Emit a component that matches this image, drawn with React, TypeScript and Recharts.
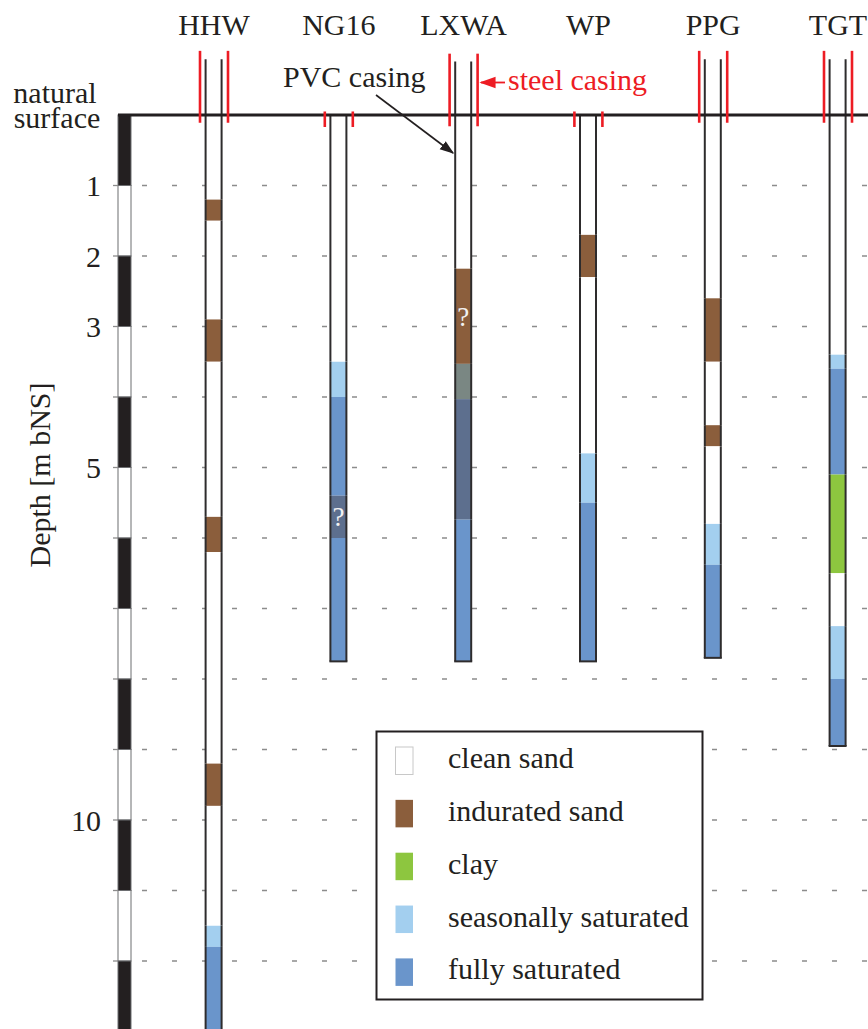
import React from "react";
import {
  BarChart,
  Bar,
  Cell,
  XAxis,
  YAxis,
  CartesianGrid,
  ReferenceLine,
  ReferenceArea,
  Legend,
  Customized,
} from "recharts";

const FONT = '"Liberation Serif", "Times New Roman", serif';
const FONT_SIZE = 30;
const INK = "#231f20";
const WALL = "#2e2c2d";
const RED = "#ed1c24";

// category band padding, so the six wells sit where the depth ruler leaves room
const X_PAD_LEFT = 33.6;
const X_PAD_RIGHT = -32.4;

const WELLS = ["HHW", "NG16", "LXWA", "WP", "PPG", "TGT"];

// top of the PVC casing in m below natural surface (negative = sticks up), 0 = flush
const CASING_TOP = [-0.79, 0, -0.76, 0, -0.79, -0.79];

// steel casing extent [top, bottom], m bNS
const STEEL_CASING = [
  [-0.91, 0.11],
  [-0.05, 0.17],
  [-0.87, 0.16],
  [-0.05, 0.17],
  [-0.91, 0.11],
  [-0.91, 0.11],
];

type Layer = [string, number, number, string?];

const HHW_LAYERS: Layer[] = [
  ["clean", 0, 1.2],
  ["indurated", 1.2, 1.5],
  ["clean", 1.5, 2.9],
  ["indurated", 2.9, 3.5],
  ["clean", 3.5, 5.7],
  ["indurated", 5.7, 6.2],
  ["clean", 6.2, 9.2],
  ["indurated", 9.2, 9.8],
  ["clean", 9.8, 11.5],
  ["seasonal", 11.5, 11.8],
  ["saturated", 11.8, 13],
];

const NG16_LAYERS: Layer[] = [
  ["clean", 0, 3.5],
  ["seasonal", 3.5, 4.0],
  ["saturated", 4.0, 5.4],
  ["saturatedQ", 5.4, 6.0, "?"],
  ["saturated", 6.0, 7.75],
];

const LXWA_LAYERS: Layer[] = [
  ["clean", 0, 2.18],
  ["indurated", 2.18, 3.53, "?"],
  ["seasonalQ", 3.53, 4.03],
  ["saturatedQ", 4.03, 5.74],
  ["saturated", 5.74, 7.75],
];

const WP_LAYERS: Layer[] = [
  ["clean", 0, 1.7],
  ["indurated", 1.7, 2.3],
  ["clean", 2.3, 4.8],
  ["seasonal", 4.8, 5.5],
  ["saturated", 5.5, 7.75],
];

const PPG_LAYERS: Layer[] = [
  ["clean", 0, 2.6],
  ["indurated", 2.6, 3.5],
  ["clean", 3.5, 4.4],
  ["indurated", 4.4, 4.7],
  ["clean", 4.7, 5.8],
  ["seasonal", 5.8, 6.38],
  ["saturated", 6.38, 7.7],
];

const TGT_LAYERS: Layer[] = [
  ["clean", 0, 3.4],
  ["seasonal", 3.4, 3.6],
  ["saturated", 3.6, 5.1],
  ["clay", 5.1, 6.5],
  ["clean", 6.5, 7.25],
  ["seasonal", 7.25, 8.0],
  ["saturated", 8.0, 8.95],
];

const LAYERS = [HHW_LAYERS, NG16_LAYERS, LXWA_LAYERS, WP_LAYERS, PPG_LAYERS, TGT_LAYERS];

const LEGEND_KEYS = ["clean", "indurated", "clay", "seasonal", "saturated"];
const LEGEND_LABELS = ["clean sand", "indurated sand", "clay", "seasonally saturated", "fully saturated"];

const COLORS: Record<string, string> = {
  clean: "#ffffff",
  indurated: "#8b5e3c",
  clay: "#8dc63f",
  seasonal: "#a3cfef",
  saturated: "#6a95cb",
  seasonalQ: "#7a8783",
  saturatedQ: "#5d6f8e",
};

const DEPTH_TICKS = [1, 2, 3, 4, 5, 6, 7, 8, 9, 10, 11, 12, 13];
const DEPTH_LABELS = [1, 2, 3, 5, 10];
const SCALE_METERS = [0, 1, 2, 3, 4, 5, 6, 7, 8, 9, 10, 11, 12];

const MAX_LAYERS = Math.max(...LAYERS.map((l) => l.length));
const LAYER_KEYS = Array.from({ length: MAX_LAYERS }, (_, k) => `l${k}`);

// one row per well: a transparent lift up to the casing top, the casing, then each layer's thickness
const data = WELLS.map((name, i) => {
  const row: Record<string, any> = { name, lift: CASING_TOP[i], casing: -CASING_TOP[i] };
  LAYER_KEYS.forEach((key, k) => {
    const layer = LAYERS[i][k];
    row[key] = layer ? layer[2] - layer[1] : 0;
  });
  return row;
});

// k = -1 for the casing piece, otherwise the layer index
function makeSegment(k: number) {
  return (p: any) => {
    const wi = WELLS.indexOf(p.payload?.name ?? WELLS[p.index]);
    const layers = LAYERS[wi];
    if (!layers) return <g />;
    if (k >= 0 && k >= layers.length) return <g />;
    const h = Math.abs(p.height || 0);
    if (h < 0.01) return <g />;
    const top = Math.min(p.y, p.y + p.height);
    const x = p.x;
    const w = p.width;
    const layer = k >= 0 ? layers[k] : null;
    const last = k === layers.length - 1;
    return (
      <g>
        <rect x={x} y={top} width={w} height={h} fill={p.fill} />
        <line x1={x} x2={x} y1={top} y2={top + h} stroke={WALL} strokeWidth={2} />
        <line x1={x + w} x2={x + w} y1={top} y2={top + h} stroke={WALL} strokeWidth={2} />
        {last && <line x1={x - 1} x2={x + w + 1} y1={top + h} y2={top + h} stroke={WALL} strokeWidth={2} />}
        {layer && layer[3] && (
          <text
            x={x + w / 2}
            y={top + h / 2}
            dy="0.35em"
            textAnchor="middle"
            fontFamily={FONT}
            fontSize={27}
            fill="#f2f2f2"
          >
            {layer[3]}
          </text>
        )}
      </g>
    );
  };
}

const SteelPair = (p: any) => (
  <g>
    <line x1={p.x1 - 14} x2={p.x2 - 14} y1={p.y1} y2={p.y2} stroke={RED} strokeWidth={2.6} />
    <line x1={p.x1 + 14} x2={p.x2 + 14} y1={p.y1} y2={p.y2} stroke={RED} strokeWidth={2.6} />
  </g>
);

// depth ruler piece: left edge of the plot, 13px wide
const rulerPiece = (m: number) => (p: any) => (
  <rect
    x={p.x - X_PAD_LEFT}
    y={Math.min(p.y, p.y + p.height)}
    width={13}
    height={Math.abs(p.height)}
    fill={m % 2 === 0 ? INK : "#fff"}
    stroke="#6d6e71"
    strokeWidth={1}
  />
);

const WellTick = (p: any) => (
  <text x={p.x} y={p.y} textAnchor="middle" fontFamily={FONT} fontSize={FONT_SIZE} fill={INK}>
    {p.payload.value}
  </text>
);

const DepthTick = (p: any) => {
  if (!DEPTH_LABELS.includes(p.payload.value)) return <g />;
  return (
    <text x={p.x} y={p.y} dy="0.35em" textAnchor="end" fontFamily={FONT} fontSize={FONT_SIZE} fill={INK}>
      {p.payload.value}
    </text>
  );
};

const SoilLegend = () => (
  <svg width={329} height={271} style={{ display: "block" }}>
    <rect x={1.5} y={1.5} width={326} height={268} fill="#fff" stroke={INK} strokeWidth={2} />
    {LEGEND_KEYS.map((key, i) => (
      <g key={key}>
        <rect
          x={20.5}
          y={17 + i * 52.85}
          width={17.5}
          height={27.5}
          fill={COLORS[key]}
          stroke={key === "clean" ? "#c8c8c8" : "none"}
          strokeWidth={1}
        />
        <text x={73} y={38 + i * 52.85} fontFamily={FONT} fontSize={FONT_SIZE} fill={INK}>
          {LEGEND_LABELS[i]}
        </text>
      </g>
    ))}
  </svg>
);

const Annotations = () => (
  <g fontFamily={FONT} fontSize={FONT_SIZE}>
    <defs>
      <marker id="arrowInk" viewBox="0 0 10 10" refX={9} refY={5} markerWidth={9} markerHeight={9} orient="auto">
        <path d="M0,1.5 L10,5 L0,8.5 z" fill={INK} />
      </marker>
      <marker id="arrowRed" viewBox="0 0 10 10" refX={9} refY={5} markerWidth={9} markerHeight={9} orient="auto">
        <path d="M0,1.5 L10,5 L0,8.5 z" fill={RED} />
      </marker>
    </defs>
    <text textAnchor="middle" fill={INK}>
      <tspan x={55} y={103}>natural</tspan>
      <tspan x={57} y={128}>surface</tspan>
    </text>
    <text x={50} y={475} textAnchor="middle" fill={INK} transform="rotate(-90 50 475)">
      Depth [m bNS]
    </text>
    <text x={283} y={87} fill={INK}>PVC casing</text>
    <line x1={376} y1={95} x2={453} y2={153} stroke={INK} strokeWidth={1.6} markerEnd="url(#arrowInk)" />
    <line x1={505} y1={82.5} x2={481} y2={82.5} stroke={RED} strokeWidth={1.8} markerEnd="url(#arrowRed)" />
    <text x={508} y={90} fill={RED}>steel casing</text>
  </g>
);

export default function App() {
  return (
    <div
      style={{
        position: "absolute",
        left: 0,
        top: 0,
        width: 868,
        height: 1029,
        overflow: "hidden",
        background: "#fff",
      }}
    >
      <BarChart
        width={868}
        height={1040}
        data={data}
        margin={{ top: 14.5, right: 0, bottom: 8.5, left: 0 }}
        barCategoryGap={0}
      >
        <CartesianGrid
          vertical={false}
          syncWithTicks
          stroke="#8c8c8c"
          strokeWidth={1.3}
          strokeDasharray="0 24 5 1"
        />
        <XAxis
          dataKey="name"
          orientation="top"
          height={30}
          axisLine={false}
          tickLine={false}
          tickSize={0}
          tickMargin={10}
          tick={WellTick}
          padding={{ left: X_PAD_LEFT, right: X_PAD_RIGHT }}
          interval={0}
        />
        <YAxis
          type="number"
          reversed
          domain={[-1, 13]}
          allowDataOverflow
          ticks={DEPTH_TICKS}
          width={118}
          axisLine={false}
          tickLine={{ stroke: "#8c8c8c", strokeWidth: 1.3 }}
          tickSize={5}
          tickMargin={12}
          tick={DepthTick}
        />
        {SCALE_METERS.map((m) => (
          <ReferenceArea key={`scale-${m}`} y1={m} y2={m + 1} ifOverflow="visible" shape={rulerPiece(m)} />
        ))}
        <ReferenceLine y={0} stroke={INK} strokeWidth={3} />
        <Bar dataKey="lift" stackId="well" barSize={16} isAnimationActive={false} shape={() => <g />} />
        <Bar dataKey="casing" stackId="well" barSize={16} isAnimationActive={false} fill="#fff" shape={makeSegment(-1)} />
        {LAYER_KEYS.map((key, k) => (
          <Bar key={key} dataKey={key} stackId="well" barSize={16} isAnimationActive={false} shape={makeSegment(k)}>
            {WELLS.map((w, i) => (
              <Cell key={w} fill={LAYERS[i][k] ? COLORS[LAYERS[i][k][0]] : "none"} />
            ))}
          </Bar>
        ))}
        {WELLS.map((w, i) => (
          <ReferenceLine
            key={`steel-${w}`}
            segment={[
              { x: w, y: STEEL_CASING[i][0] },
              { x: w, y: STEEL_CASING[i][1] },
            ]}
            ifOverflow="visible"
            shape={SteelPair}
          />
        ))}
        <Legend
          layout="vertical"
          align="center"
          verticalAlign="middle"
          wrapperStyle={{ left: 375, top: 730, width: 329, height: 271 }}
          content={SoilLegend}
        />
        <Customized component={Annotations} />
      </BarChart>
    </div>
  );
}
